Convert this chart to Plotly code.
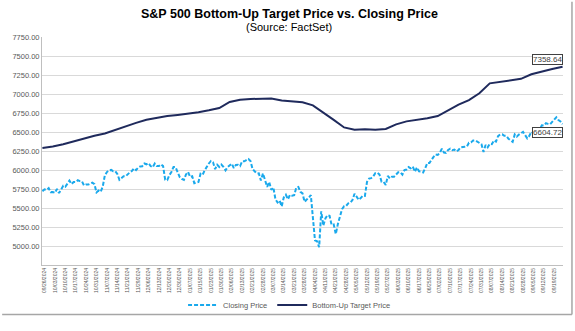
import pandas as pd
import plotly.graph_objects as go

# ---- data ----
holidays = ["2024-11-28", "2024-12-25", "2025-01-01", "2025-01-09", "2025-01-20",
            "2025-02-17", "2025-04-18", "2025-05-26", "2025-06-19", "2025-07-04", "2025-09-01"]
start_date = "2024-09-25"
end_date = "2025-09-25"

close_sep24 = [5722, 5745, 5738, 5762]
close_oct24 = [5709, 5710, 5700, 5751, 5696, 5751, 5792, 5780, 5815, 5860, 5815, 5842,
               5841, 5865, 5854, 5851, 5797, 5810, 5808, 5824, 5833, 5814, 5705]
close_nov24 = [5729, 5713, 5783, 5929, 5973, 5996, 6001, 5984, 5985, 5949, 5871, 5894,
               5917, 5917, 5949, 5969, 5987, 6022, 5999, 6032]
close_dec24 = [6047, 6050, 6086, 6075, 6090, 6053, 6035, 6084, 6051, 6051, 6074, 6051,
               5872, 5867, 5931, 5974, 6040, 6038, 5971, 5907, 5882]
close_jan25 = [5869, 5942, 5975, 5909, 5918, 5827, 5836, 5843, 5950, 5937, 5997, 6049,
               6086, 6119, 6101, 6012, 6068, 6039, 6071, 6041]
close_feb25 = [5995, 6038, 6061, 6084, 6026, 6066, 6069, 6052, 6115, 6115, 6130, 6144,
               6118, 6013, 5983, 5955, 5956, 5862, 5955]
close_mar25 = [5850, 5778, 5843, 5739, 5770, 5615, 5572, 5599, 5522, 5639, 5675, 5615,
               5675, 5663, 5668, 5768, 5777, 5712, 5693, 5581, 5612]
close_apr25 = [5633, 5671, 5397, 5074, 5062, 4983, 5457, 5268, 5363, 5406, 5397, 5276,
               5283, 5158, 5288, 5376, 5485, 5525, 5529, 5561, 5569]
close_may25 = [5604, 5687, 5650, 5607, 5631, 5664, 5660, 5844, 5887, 5893, 5917, 5958,
               5964, 5940, 5845, 5842, 5803, 5922, 5889, 5912, 5912]
close_jun25 = [5936, 5970, 5971, 5939, 6000, 6006, 6039, 6022, 6045, 5977, 6033, 5983,
               5981, 5968, 6025, 6092, 6092, 6141, 6173, 6205]
close_jul25 = [6198, 6227, 6279, 6230, 6226, 6263, 6280, 6260, 6269, 6244, 6264, 6297,
               6297, 6306, 6310, 6359, 6363, 6389, 6390, 6371, 6363, 6339]
close_aug25 = [6238, 6330, 6299, 6345, 6340, 6389, 6373, 6446, 6467, 6469, 6450, 6449,
               6411, 6396, 6370, 6467, 6439, 6466, 6481, 6502, 6460]
close_sep25 = [6416, 6448, 6502, 6482, 6495, 6513, 6532, 6587, 6584, 6615, 6607, 6600,
               6632, 6664, 6694, 6657, 6638, 6604.72]

# bottom-up target price, read every 5th trading day
target_weekly = [6290, 6310, 6340, 6380, 6410, 6450, 6480, 6530, 6580, 6620,
                 6660, 6690, 6710, 6725, 6740, 6760, 6785, 6815, 6895, 6925,
                 6935, 6940, 6940, 6915, 6905, 6890, 6850, 6760, 6660, 6560,
                 6530, 6535, 6530, 6540, 6600, 6640, 6660, 6680, 6710, 6790,
                 6860, 6920, 7010, 7140, 7160, 7180, 7200, 7260, 7300, 7330,
                 7358.64]

y_ticks = [5000, 5250, 5500, 5750, 6000, 6250, 6500, 6750, 7000, 7250, 7500, 7750]

title_text = "<b>S&P 500 Bottom-Up Target Price vs. Closing Price</b>"
subtitle_text = "(Source: FactSet)"

# ---- build ----
days = pd.bdate_range(start_date, end_date)
days = [d for d in days if d.strftime("%Y-%m-%d") not in holidays]
dates = [d.strftime("%m/%d/%Y") for d in days]
closing = (close_sep24 + close_oct24 + close_nov24 + close_dec24 + close_jan25 + close_feb25
           + close_mar25 + close_apr25 + close_may25 + close_jun25 + close_jul25
           + close_aug25 + close_sep25)
target_dates = dates[::5]

font_fam = "Arial, Liberation Sans, sans-serif"
grey = "#595959"

fig = go.Figure()
fig.add_trace(go.Scatter(x=dates, y=closing, mode="lines", name="Closing Price",
                         line=dict(color="#1AA9EC", width=2, dash="4px,2px")))
fig.add_trace(go.Scatter(x=target_dates, y=target_weekly, mode="lines",
                         name="Bottom-Up Target Price",
                         line=dict(color="#1F2A5C", width=2)))

fig.add_annotation(x=dates[-1], y=target_weekly[-1], text="7358.64", showarrow=False,
                   xanchor="right", yanchor="bottom", yshift=2,
                   font=dict(size=8, color="#404040", family=font_fam),
                   bgcolor="white", bordercolor="#404040", borderwidth=1, borderpad=0)
fig.add_annotation(x=dates[-1], y=closing[-1], text="6604.72", showarrow=False,
                   xanchor="right", yanchor="top", yshift=-3,
                   font=dict(size=8, color="#404040", family=font_fam),
                   bgcolor="white", bordercolor="#404040", borderwidth=1, borderpad=0)

fig.add_annotation(xref="paper", yref="paper", x=(288 - 40) / 523, y=(277 - 13) / 240,
                   text=title_text, showarrow=False, xanchor="center", yanchor="middle",
                   font=dict(size=12.5, color="#000000", family=font_fam))
fig.add_annotation(xref="paper", yref="paper", x=(288 - 40) / 523, y=(277 - 26) / 240,
                   text=subtitle_text, showarrow=False, xanchor="center", yanchor="middle",
                   font=dict(size=11, color="#000000", family=font_fam))

# frame lines (right and bottom)
fig.add_shape(type="line", xref="paper", yref="paper",
              x0=(572 - 40) / 523, x1=(572 - 40) / 523, y0=(277 - 329) / 240, y1=(277 - 0) / 240,
              line=dict(color="#a6a6a6", width=1.5))
fig.add_shape(type="line", xref="paper", yref="paper",
              x0=(0 - 40) / 523, x1=(572 - 40) / 523, y0=(277 - 329) / 240, y1=(277 - 329) / 240,
              line=dict(color="#a6a6a6", width=1.5))

fig.update_layout(
    width=575, height=331,
    margin=dict(l=40, r=12, t=37, b=54),
    paper_bgcolor="white", plot_bgcolor="white",
    font=dict(family=font_fam, color=grey),
    showlegend=True,
    legend=dict(orientation="h", x=(288 - 40) / 523, xanchor="center", y=(277 - 319) / 240,
                yanchor="middle", font=dict(size=7.5, color=grey), itemwidth=30,
                bgcolor="rgba(0,0,0,0)"),
)
fig.update_xaxes(type="category", categoryorder="array", categoryarray=dates,
                 range=[-0.2, len(dates) - 0.8],
                 tickmode="array", tickvals=dates[1::5], ticktext=dates[1::5],
                 tickangle=-90, tickfont=dict(size=5, color=grey),
                 showgrid=False, showline=True, linecolor="#bfbfbf", linewidth=1,
                 ticks="", zeroline=False)
fig.update_yaxes(range=[4750, 7750], tickmode="array", tickvals=y_ticks, tickformat=".2f",
                 tickfont=dict(size=7.5, color=grey),
                 showgrid=True, gridcolor="#d9d9d9", gridwidth=1,
                 showline=True, linecolor="#bfbfbf", linewidth=1, zeroline=False)

fig.write_html("out.html")
